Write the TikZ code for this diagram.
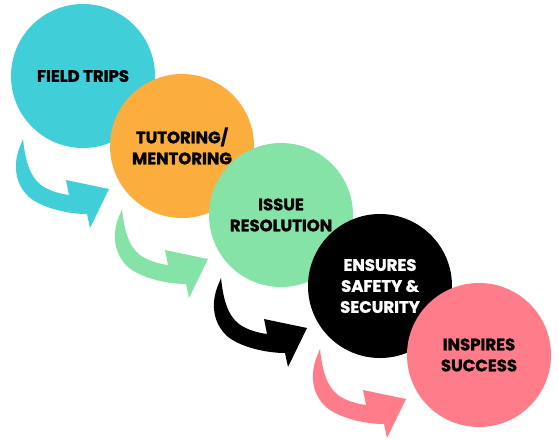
\documentclass[tikz,border=0pt]{standalone}
\usepackage{fontspec}
\setmainfont{Poppins}[BoldFeatures={FakeBold=1.4}]
\begin{document}
\begin{tikzpicture}[x=1pt,y=-1pt]
\definecolor{cteal}{RGB}{64,206,216}
\definecolor{corange}{RGB}{251,173,62}
\definecolor{cgreen}{RGB}{134,227,168}
\definecolor{cpink}{RGB}{255,125,139}
\tikzset{
  bub/.style={circle,minimum size=144pt,inner sep=0pt,align=center,
    font=\fontsize{16.5}{21}\selectfont\bfseries},
  curvarrow/.pic={
    \fill[pic actions] (-60,63)
      .. controls (-58,82) and (-54,100) .. (-42,109)
      .. controls (-34,115) and (-22,118) .. (-14,119)
      -- (-17,104) -- (26,113) -- (7,152) -- (4,138)
      .. controls (-15,138) and (-41,132) .. (-54,121)
      .. controls (-68,108) and (-71,88) .. (-62,68)
      -- cycle;
  }
}
\useasboundingbox (0,0) rectangle (559,440);
\fill[white] (0,0) rectangle (559,440);
\node[bub,fill=cteal] (c1) at (83,76) {FIELD TRIPS};
\node[bub,fill=corange] (c2) at (182,146) {TUTORING/\\MENTORING};
\node[bub,fill=cgreen] (c3) at (281,215) {ISSUE\\RESOLUTION};
\node[bub,fill=black,text=white] (c4) at (380,286) {ENSURES\\SAFETY \&\\SECURITY};
\node[bub,fill=cpink] (c5) at (479,355) {INSPIRES\\SUCCESS};
\pic[fill=cteal] at (c1.center) {curvarrow};
\pic[fill=cgreen] at (c2.center) {curvarrow};
\pic[fill=black] at (c3.center) {curvarrow};
\pic[fill=cpink] at (c4.center) {curvarrow};
\end{tikzpicture}
\end{document}
